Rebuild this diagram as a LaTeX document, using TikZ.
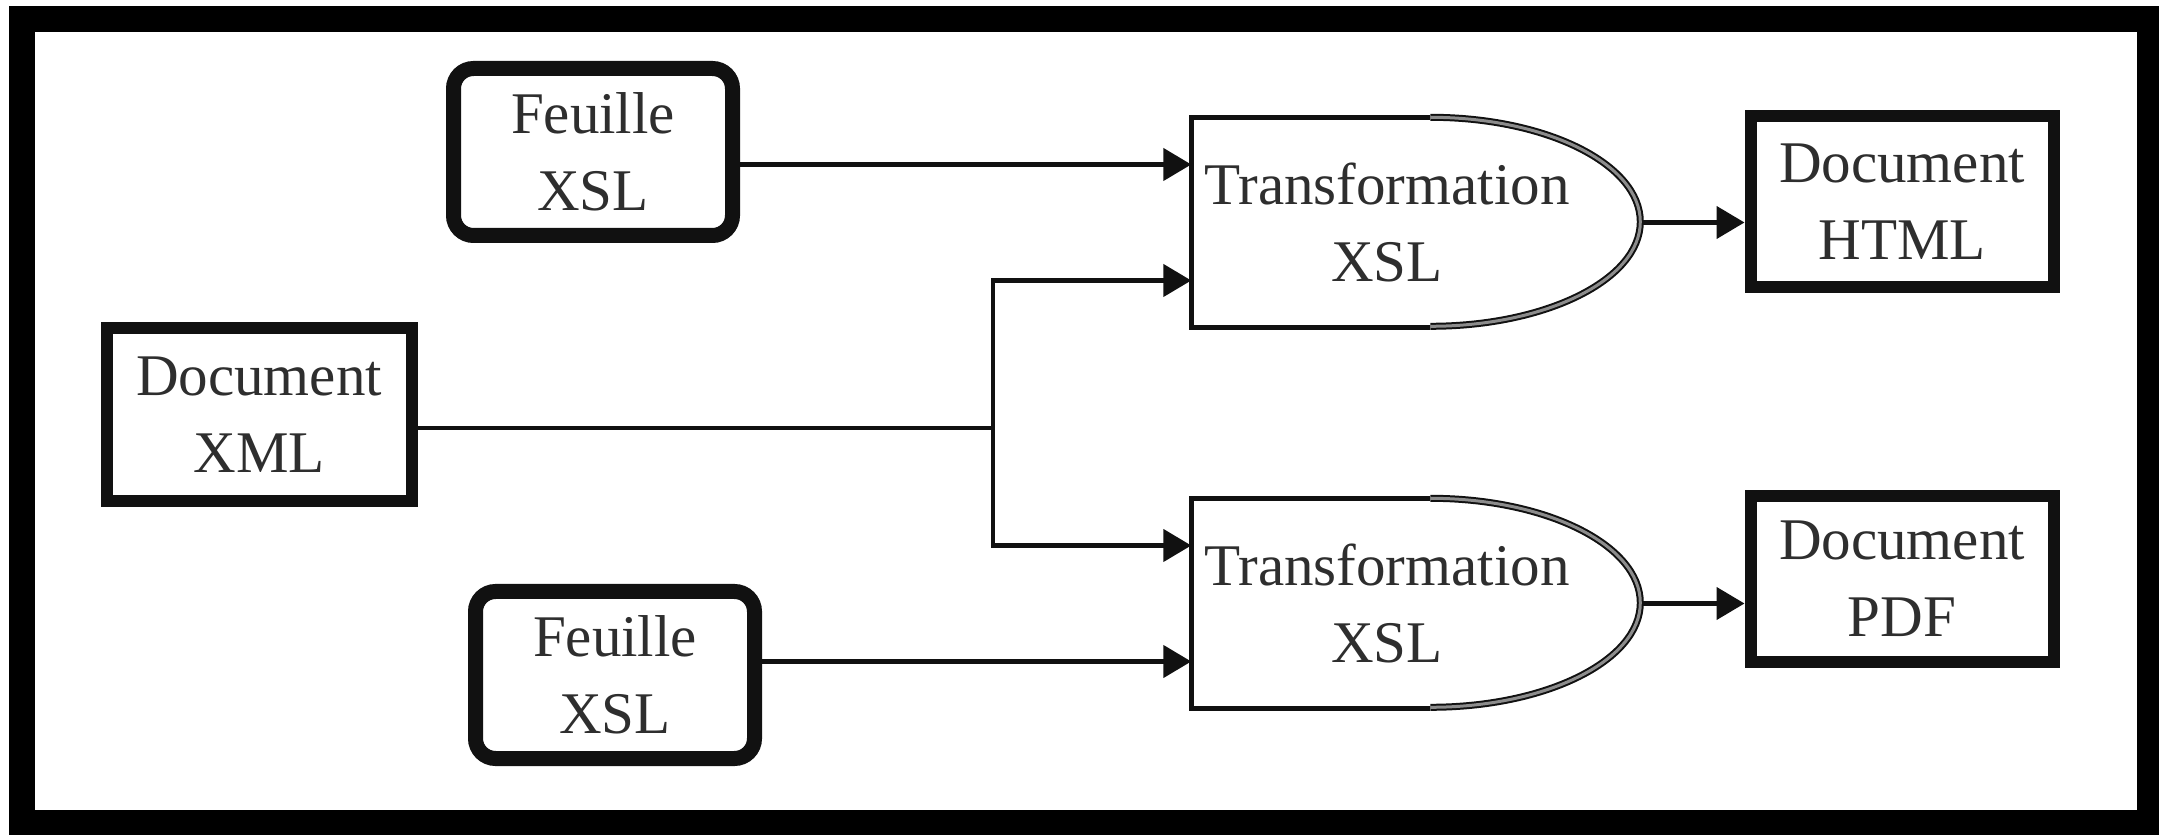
\documentclass[tikz,border=0pt]{standalone}
\usepackage{fontspec}
\setmainfont{Liberation Serif}
\usetikzlibrary{arrows.meta,positioning}
\definecolor{ink}{HTML}{111111}
\definecolor{ink2}{HTML}{2E2E2E}
\definecolor{grey1}{HTML}{8C8C8C}

\begin{document}
\begin{tikzpicture}[font=\fontsize{16.8}{22}\selectfont,
  feuille/.style={draw=ink,line width=1.5mm,rounded corners=2mm,minimum width=2.79cm,minimum height=1.67cm,align=center,inner sep=0pt,text=ink2},
  docbox/.style={draw=ink,line width=1.2mm,minimum width=3.03cm,minimum height=1.71cm,align=center,inner sep=0pt,text=ink2},
  transfo/.style={minimum width=3.9cm,minimum height=2.09cm,align=center,inner sep=0pt,text=ink2},
  wire/.style={draw=ink,line width=0.45mm},
  arr/.style={wire,-{Triangle[length=2.8mm,width=3.2mm]}}]
  \useasboundingbox (0,0) rectangle (21.59,8.34);
  \draw[line width=2.6mm] (0.22,0.11) rectangle (21.50,8.145);
  % sources
  \node[feuille] (f1) at (5.93,6.82) {Feuille\\XSL};
  \node[docbox, minimum width=3.05cm, minimum height=1.73cm] (d1) at (2.59,4.195) {Document\\XML};
  \node[feuille] (f2) at (6.15,1.59) {Feuille\\XSL};
  % transformations: flat part + half ellipse
  \node[transfo] (t1) at (13.87,6.115) {Transformation\\XSL};
  \node[transfo] (t2) at (13.87,2.305) {Transformation\\XSL};
  \foreach \t in {t1,t2} {
    \draw[ink,line width=0.45mm] ([xshift=2.39cm]\t.north west) -- (\t.north west) -- (\t.south west) -- ([xshift=2.39cm]\t.south west);
    \draw[ink,line width=0.2mm,double=grey1,double distance=0.3mm] ([xshift=2.39cm]\t.north west)
      arc[start angle=90,end angle=-90,x radius=2.10,y radius=1.045];
  }
  \coordinate (t1out) at ([xshift=5.9mm]t1.east);
  \coordinate (t2out) at ([xshift=5.9mm]t2.east);
  % results
  \node[docbox] (html) at (19.02,6.325) {Document\\HTML};
  \node[docbox, minimum height=1.66cm] (pdf) at (19.02,2.55) {Document\\PDF};
  % connectors
  \coordinate (t1a) at ([yshift=5.8mm]t1.west);
  \coordinate (t1b) at ([yshift=-5.8mm]t1.west);
  \coordinate (t2a) at ([yshift=5.8mm]t2.west);
  \coordinate (t2b) at ([yshift=-5.8mm]t2.west);
  \coordinate (split) at (9.93,4.06);
  \draw[arr] (f1.east |- t1a) -- (t1a);
  \draw[arr] (f2.east |- t2b) -- (t2b);
  \draw[wire] (d1.east |- split) -- (split);
  \draw[arr] (split) |- (t1b);
  \draw[arr] (split) |- (t2a);
  \draw[arr] (t1out) -- (t1out -| html.west);
  \draw[arr] (t2out) -- (t2out -| pdf.west);
\end{tikzpicture}
\end{document}
